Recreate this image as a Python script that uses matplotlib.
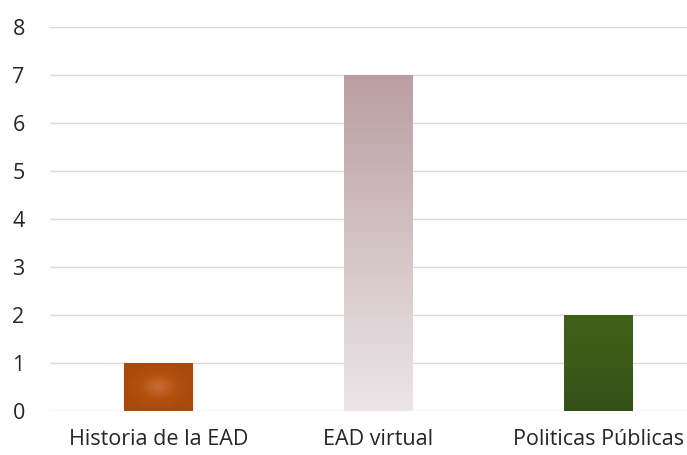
import numpy as np
import matplotlib.pyplot as plt
from matplotlib.colors import LinearSegmentedColormap

categories = ["Historia de la EAD", "EAD virtual", "Politicas Públicas"]
values = [1, 7, 2]
y_ticks = [0, 1, 2, 3, 4, 5, 6, 7, 8]

plt.rcParams['font.family'] = ['Open Sans', 'DejaVu Sans']

fig = plt.figure(figsize=(6.87, 4.55), dpi=100)
ax = fig.add_axes([50 / 687, 1 - 411 / 455, 637 / 687, 384 / 455])

x = np.arange(len(categories))
bars = ax.bar(x, values, width=0.31, color="none", edgecolor="none", zorder=2)

# gradient fills clipped to each bar (first colour = top / centre)
grad_specs = [
    ("radial", ["#C76C36", "#B4520F", "#A84A0C"]),
    ("vertical", ["#BB9EA1", "#D3C3C6", "#ECE6E8"]),
    ("vertical", ["#41611A", "#3C5A18", "#34501A"]),
]
for bar, (kind, cols) in zip(bars, grad_specs):
    x0, y0 = bar.get_x(), bar.get_y()
    w, h = bar.get_width(), bar.get_height()
    cmap = LinearSegmentedColormap.from_list("g", cols)
    if kind == "radial":
        gx, gy = np.meshgrid(np.linspace(-1, 1, 200), np.linspace(-1, 1, 100))
        z = np.clip(np.sqrt(gx ** 2 + gy ** 2), 0, 1)
    else:
        z = np.linspace(0, 1, 256).reshape(-1, 1)
    im = ax.imshow(z, cmap=cmap, extent=[x0, x0 + w, y0, y0 + h],
                   aspect="auto", zorder=2, origin="upper")
    im.set_clip_path(bar)

ax.set_xlim(-0.493, 2.402)
ax.set_ylim(0, 8)
ax.set_yticks(y_ticks)
ax.set_xticks(x)
ax.set_xticklabels(categories)
ax.grid(axis="y", color="#D9D9D9", linewidth=1, zorder=0)
ax.set_axisbelow(True)
for s in ax.spines.values():
    s.set_visible(False)
ax.tick_params(length=0, labelsize=15.5, colors="#262626")
ax.tick_params(axis="x", pad=13)
ax.tick_params(axis="y", pad=27)
for lbl in ax.get_yticklabels():
    lbl.set_horizontalalignment("left")

fig.savefig("out.png", dpi=100)
